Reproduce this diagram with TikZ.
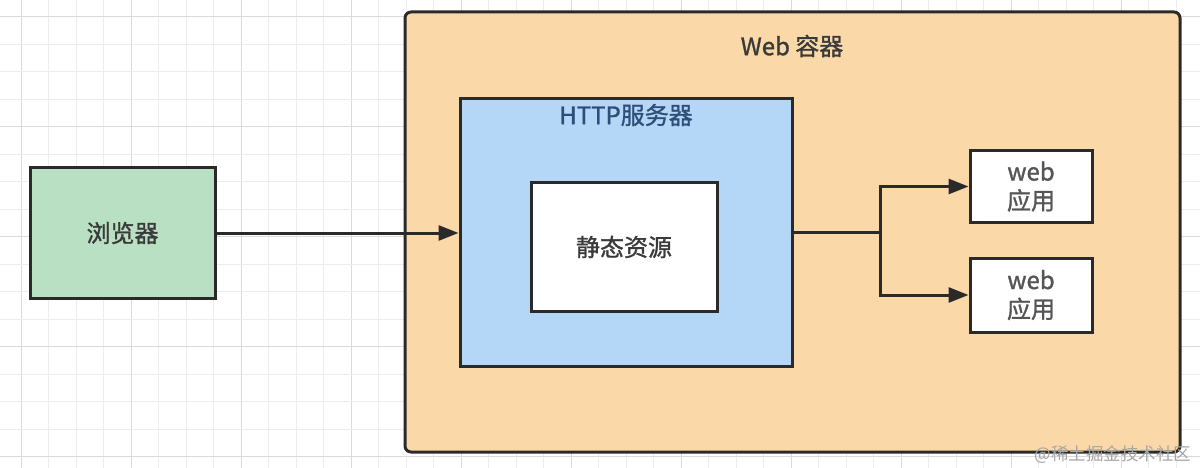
\documentclass[tikz,border=0pt]{standalone}
\usepackage{fontspec}
\setmainfont{Noto Sans CJK SC}[RawFeature={embolden=1.2}]
\newfontfamily\wmfont{Noto Sans CJK SC}
\usetikzlibrary{arrows.meta}
\definecolor{gridminor}{HTML}{ECECEC}
\definecolor{gridmajor}{HTML}{DADADA}
\definecolor{greenfill}{HTML}{B9E0C2}
\definecolor{orangefill}{HTML}{FBD8A8}
\definecolor{bluefill}{HTML}{B4D6F7}
\definecolor{edge}{HTML}{2A2A2A}
\definecolor{txt}{HTML}{3A3A3A}
\definecolor{httptxt}{HTML}{2C4E78}
\definecolor{webtxt}{HTML}{555555}
\tikzset{
  box/.style={draw=edge, line width=3pt, rectangle, inner sep=0pt, align=center, text=txt},
  arr/.style={draw=edge, line width=3pt, -{Triangle[length=20pt,width=15pt]}},
  plain/.style={draw=edge, line width=3pt},
  big/.style={font=\fontsize{24}{29}\selectfont},
}
\begin{document}
\begin{tikzpicture}[x=1pt,y=-1pt]
\useasboundingbox (0,0) rectangle (1200,468);
\fill[white] (0,0) rectangle (1200,468);
% grid
\foreach \i in {0,...,43} {
  \pgfmathsetmacro{\gx}{21+27.5*\i}
  \pgfmathtruncatemacro{\m}{mod(\i-4,4)}
  \ifnum\m=0 \draw[gridmajor, line width=1pt] (\gx,0) -- (\gx,468);
  \else \draw[gridminor, line width=1pt] (\gx,0) -- (\gx,468); \fi
}
\foreach \j in {0,...,16} {
  \pgfmathsetmacro{\gy}{16.7+27.5*\j}
  \pgfmathtruncatemacro{\m}{mod(\j,4)}
  \ifnum\m=0 \draw[gridmajor, line width=1pt] (0,\gy) -- (1200,\gy);
  \else \draw[gridminor, line width=1pt] (0,\gy) -- (1200,\gy); \fi
}
% container
\node[box, fill=orangefill, rounded corners=6pt, minimum width=775pt, minimum height=440pt] (cont) at (792.5,232) {};
\node[text=txt, big] (conttitle) at (792,46) {Web 容器};
% browser
\node[box, fill=greenfill, minimum width=185pt, minimum height=130pt, big] (browser) at (122.5,233) {浏览器};
% http server
\node[box, fill=bluefill, minimum width=332pt, minimum height=267pt] (http) at (626,232.5) {};
\node[text=httptxt, big] (httptitle) at (626,115) {HTTP服务器};
% static
\node[box, fill=white, minimum width=186pt, minimum height=129pt, big] (static) at (624,247) {静态资源};
% web apps
\node[box, fill=white, text=webtxt, minimum width=122pt, minimum height=71pt, big] (web1) at (1031,186.5) {web\\应用};
\node[box, fill=white, text=webtxt, minimum width=122pt, minimum height=74pt, big] (web2) at (1031,295) {web\\应用};
% connectors
\draw[arr] (browser.east) -- (browser.east -| http.west);
\coordinate (split) at (880,232.5);
\draw[plain] (http.east) -- (split);
\draw[arr] (split) |- (web1.west);
\draw[arr] (split) |- (web2.west);
% watermark
\node[text=gray!70, font=\wmfont\fontsize{17.5}{20}\selectfont, anchor=east] (wm) at (1195,455) {@稀土掘金技术社区};
\end{tikzpicture}
\end{document}
